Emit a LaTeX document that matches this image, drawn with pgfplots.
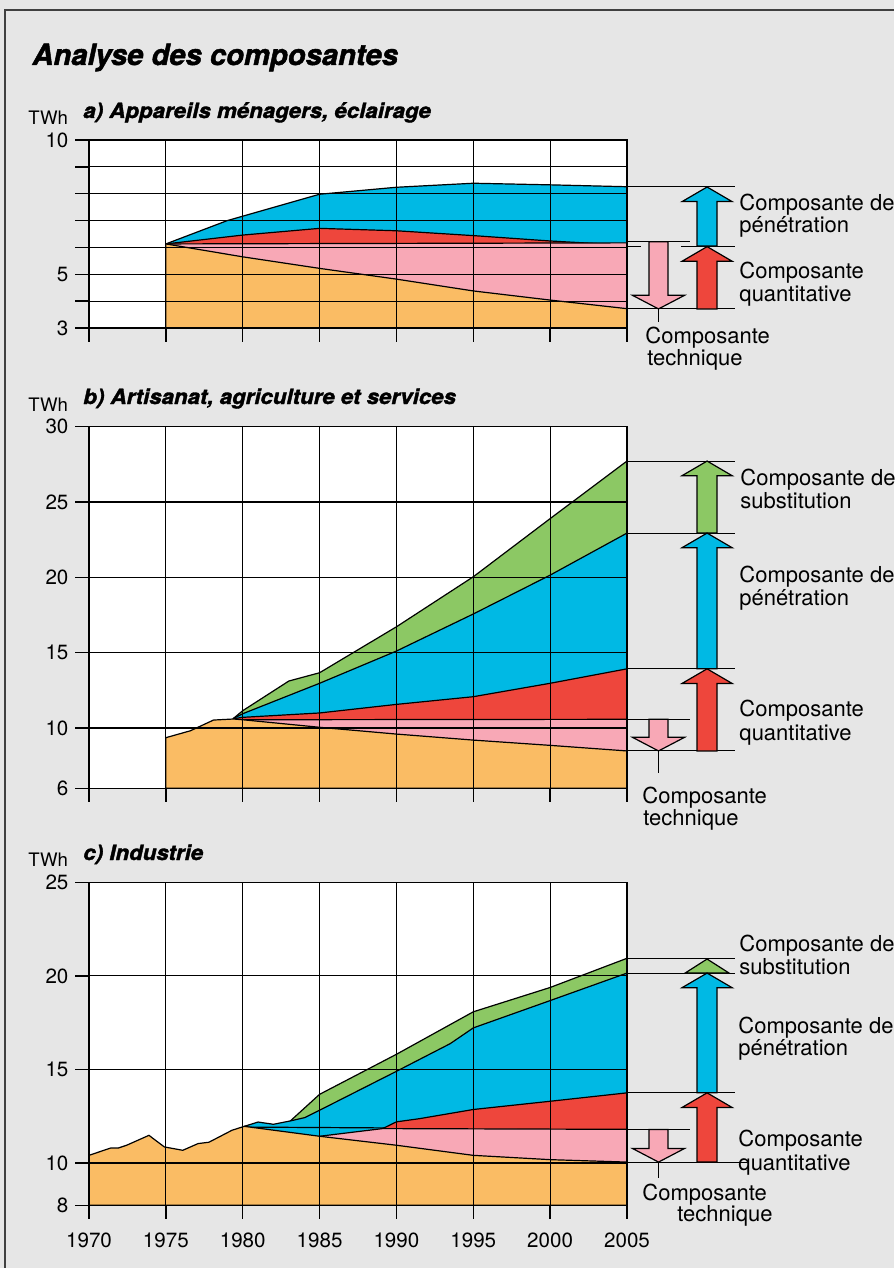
\documentclass[border=0pt]{standalone}
\usepackage{fontspec}
\setmainfont{TeX Gyre Heros}
\newfontfamily\heavyfont{TeX Gyre Heros}[BoldItalicFeatures={FakeBold=1.6}]
\usepackage{pgfplots}
\pgfplotsset{compat=1.18}
\usetikzlibrary{calc}

\definecolor{paper}{RGB}{230,230,230}
\definecolor{orng}{RGB}{250,188,100}
\definecolor{pnk}{RGB}{248,168,182}
\definecolor{rd}{RGB}{238,70,60}
\definecolor{blu}{RGB}{0,185,228}
\definecolor{grn}{RGB}{140,200,100}

\newcommand{\lab}{\fontsize{11}{13}\selectfont}
\newcommand{\ptitle}[1]{\scalebox{1.06}[1]{\heavyfont\fontsize{10.5}{12}\selectfont\bfseries\itshape #1}}

% block arrow pointing up: colour, x, y bottom, y tip
\newcommand{\uparr}[4]{%
  \filldraw[fill=#1, draw=black, line width=0.6pt]
    ($(axis cs:#2,#3)+(-5pt,0pt)$) -- ($(axis cs:#2,#4)+(-5pt,-7.3pt)$)
    -- ($(axis cs:#2,#4)+(-12.5pt,-7.3pt)$) -- (axis cs:#2,#4)
    -- ($(axis cs:#2,#4)+(12.5pt,-7.3pt)$) -- ($(axis cs:#2,#4)+(5pt,-7.3pt)$)
    -- ($(axis cs:#2,#3)+(5pt,0pt)$) -- cycle;
}
% block arrow pointing down: colour, x, y top, y tip, stem length
\newcommand{\downarr}[5]{%
  \filldraw[fill=#1, draw=black, line width=0.6pt]
    ($(axis cs:#2,#3)+(-4.75pt,0pt)$) -- ($(axis cs:#2,#4)+(-4.75pt,6.8pt)$)
    -- ($(axis cs:#2,#4)+(-13pt,6.8pt)$) -- (axis cs:#2,#4)
    -- ($(axis cs:#2,#4)+(13pt,6.8pt)$) -- ($(axis cs:#2,#4)+(4.75pt,6.8pt)$)
    -- ($(axis cs:#2,#3)+(4.75pt,0pt)$) -- cycle;
  \draw[line width=0.6pt] (axis cs:#2,#4) -- ($(axis cs:#2,#4)+(0pt,-#5)$);
}
% reference line to the right of the plot
\newcommand{\refline}[3][2005]{\draw[line width=0.5pt] (axis cs:#1,#2) -- (axis cs:#3,#2);}

\pgfplotsset{
  panel/.style={
    scale only axis, width=269pt,
    xmin=1970, xmax=2005,
    xtick={1970,1975,...,2005},
    axis on top, clip=false,
    grid=major, grid style={black, line width=0.6pt},
    axis line style={black, line width=0.7pt},
    tick style={black, line width=0.7pt},
    major tick length=6.75pt,
    tick align=outside, tick pos=left,
    axis background/.style={fill=white},
    ticklabel style={font=\fontsize{10.3}{12}\selectfont},
    xticklabel style={yshift=-3.6pt},
    /pgf/number format/assume math mode=true,
    /pgf/number format/1000 sep={},
  },
  area/.style={fill=#1, draw=black, line width=0.6pt},
}

\begin{document}
\begin{tikzpicture}
\fill[paper] (0,0) rectangle (447pt,-634pt);

\begin{scope}[x=0.5pt, y=-0.5pt]
  \draw[line width=0.8pt, black!75] (5,1268) -- (5,10) -- (894,10);
  \node[anchor=base west, inner sep=0, font=\heavyfont\fontsize{14.6}{17}\selectfont\bfseries\itshape]
    at (32,65) {Analyse des composantes};
  % panel headings
  \node[anchor=base west, inner sep=0, font=\fontsize{9.3}{11}\selectfont] at (28,125) {TWh};
  \node[anchor=base west, inner sep=0] at (83,118) {\ptitle{a) Appareils ménagers, éclairage}};
  \node[anchor=base west, inner sep=0, font=\fontsize{9.3}{11}\selectfont] at (28,411.5) {TWh};
  \node[anchor=base west, inner sep=0] at (83,404) {\ptitle{b) Artisanat, agriculture et services}};
  \node[anchor=base west, inner sep=0, font=\fontsize{9.3}{11}\selectfont] at (28,866.5) {TWh};
  \node[anchor=base west, inner sep=0] at (83,860) {\ptitle{c) Industrie}};
  \begin{scope}[every node/.style={anchor=base west, inner sep=0, font=\lab}]
    % panel a
    \node at (739,210) {Composante de};
    \node at (739,232) {pénétration};
    \node at (739,278) {Composante};
    \node at (739,301.5) {quantitative};
    \node at (645,343) {Composante};
    \node at (647,365) {technique};
    % panel b
    \node at (740,485.7) {Composante de};
    \node at (740,508) {substitution};
    \node at (739,582.7) {Composante de};
    \node at (739,605) {pénétration};
    \node at (739,716.7) {Composante};
    \node at (739,740) {quantitative};
    \node at (642,803) {Composante};
    \node at (643,825) {technique};
    % panel c
    \node at (739,951.7) {Composante de};
    \node at (739,974) {substitution};
    \node at (738,1033.3) {Composante de};
    \node at (738,1055) {pénétration};
    \node at (738,1146.7) {Composante};
    \node at (738,1170) {quantitative};
    \node at (642,1200) {Composante};
    \node at (677,1221.7) {technique};
  \end{scope}
\end{scope}

% a) Appareils ménagers, éclairage
\begin{axis}[panel, at={(44.5pt,-164pt)}, anchor=south west, height=94pt,
  ymin=3, ymax=10, ytick={3,...,10}, yticklabels={3,,5,,,,,10},
  xticklabels={,,,,,,,}]
\addplot[area=blu] coordinates {(1975,6.13) (1979,7.0) (1985,7.98) (1990,8.24) (1995,8.39) (2000,8.33) (2005,8.26)} \closedcycle;
\addplot[area=rd] coordinates {(1975,6.13) (1980,6.46) (1985,6.71) (1990,6.62) (1995,6.44) (2000,6.24) (2005,6.08)} \closedcycle;
\addplot[area=pnk] coordinates {(1975,6.13) (2005,6.17)} \closedcycle;
\addplot[area=orng] coordinates {(1975,6.13) (1980,5.65) (1985,5.22) (1990,4.82) (1995,4.38) (2000,4.04) (2005,3.72)} \closedcycle;
\refline{8.25}{2012.03}
\refline{6.05}{2005.9}
\refline[2008.5]{6.05}{2012.03}
\refline{6.21}{2009.1}
\refline{3.71}{2012.03}
\uparr{blu}{2010.21}{6.05}{8.25}
\uparr{rd}{2010.21}{3.71}{6.03}
\downarr{pnk}{2007.05}{6.21}{3.71}{6.5pt}
\end{axis}

% b) Artisanat, agriculture et services
\begin{axis}[panel, at={(44.5pt,-394.15pt)}, anchor=south west, height=180.8pt,
  ymin=6, ymax=30, ytick={6,10,15,20,25,30}, yticklabels={6,10,15,20,25,30},
  xticklabels={,,,,,,,}]
\addplot[area=grn] coordinates {(1979.4,10.64) (1980,11.15) (1983,13.12) (1985,13.67) (1990,16.72) (1995,20.04) (2000,23.9) (2005,27.72)} \closedcycle;
\addplot[area=blu] coordinates {(1979.4,10.64) (1980,10.95) (1985,12.97) (1990,15.11) (1995,17.57) (2000,20.15) (2005,22.94)} \closedcycle;
\addplot[area=rd] coordinates {(1979.4,10.62) (1980,10.71) (1985,11.0) (1990,11.57) (1995,12.08) (2000,12.97) (2005,13.93)} \closedcycle;
\addplot[area=pnk] coordinates {(1980,10.55) (2005,10.58)} \closedcycle;
\addplot[area=orng] coordinates {(1975,9.36) (1976.6,9.82) (1978.1,10.53) (1979.4,10.6) (1980,10.55) (1985,10.05) (1990,9.6) (1995,9.2) (2000,8.85) (2005,8.48)} \closedcycle;
\refline{27.72}{2012.03}
\refline{22.94}{2012.03}
\refline{13.93}{2012.03}
\refline{10.58}{2009.1}
\refline{8.48}{2012.03}
\uparr{grn}{2010.21}{22.94}{27.72}
\uparr{blu}{2010.21}{13.93}{22.94}
\uparr{rd}{2010.21}{8.48}{13.93}
\downarr{pnk}{2007.05}{10.58}{8.48}{11pt}
\end{axis}

% c) Industrie
\begin{axis}[panel, at={(44.5pt,-602.65pt)}, anchor=south west, height=161.5pt,
  ymin=7.74, ymax=25, ytick={7.74,10,15,20,25}, yticklabels={8,10,15,20,25},
  xticklabels={1970,1975,1980,1985,1990,1995,2000,2005}]
\addplot[area=grn] coordinates {(1983.1,12.25) (1985,13.67) (1990,15.81) (1995,18.08) (2000,19.38) (2005,20.94)} \closedcycle;
\addplot[area=blu] coordinates {(1980.1,11.96) (1981,12.19) (1982,12.07) (1983.1,12.25) (1984.05,12.43) (1985,12.82) (1990,14.9) (1993.5,16.38) (1995,17.22) (2000,18.68) (2005,20.15)} \closedcycle;
\addplot[black, line width=0.6pt] coordinates {(1980.1,11.92) (2005,11.8)};
\addplot[area=rd] coordinates {(1989.1,11.84) (1990,12.2) (1991.5,12.37) (1995,12.86) (2000,13.3) (2005,13.75)} \closedcycle;
\addplot[area=pnk] coordinates {(1985,11.43) (1989.1,11.84) (2005,11.8)} \closedcycle;
\addplot[area=orng] coordinates {(1970,10.41) (1971.4,10.8) (1971.9,10.8) (1972.45,10.95) (1973.9,11.48) (1974.9,10.86) (1976.1,10.68) (1977.1,11.04) (1977.8,11.11) (1979.3,11.75) (1980.1,11.96) (1985,11.43) (1990,10.95) (1995,10.41) (2000,10.18) (2005,10.05)} \closedcycle;
\refline{20.94}{2012.03}
\refline{20.15}{2012.03}
\refline{13.75}{2012.03}
\refline{11.79}{2009.1}
\refline{10.05}{2012.8}
\filldraw[fill=grn, draw=black, line width=0.6pt] ($(axis cs:2010.21,20.15)+(-11pt,0pt)$) -- (axis cs:2010.21,20.9) -- ($(axis cs:2010.21,20.15)+(11pt,0pt)$) -- cycle;
\uparr{blu}{2010.21}{13.75}{20.15}
\uparr{rd}{2010.21}{10.05}{13.75}
\downarr{pnk}{2007.05}{11.79}{10.05}{8pt}
\end{axis}

\pgfresetboundingbox
\useasboundingbox (0,0) rectangle (447pt,-634pt);
\end{tikzpicture}
\end{document}
